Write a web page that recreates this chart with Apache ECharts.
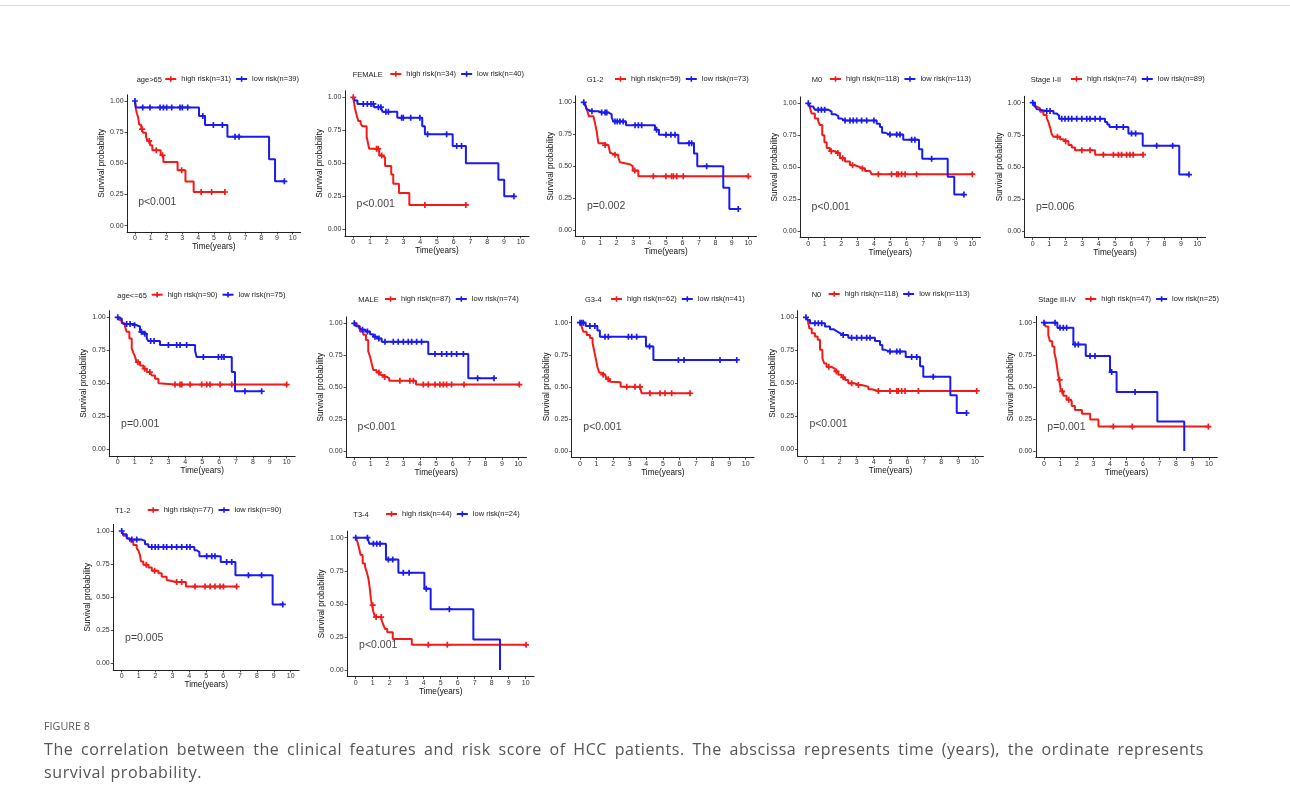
<!DOCTYPE html>
<html><head><meta charset="utf-8">
<script src="https://cdn.jsdelivr.net/npm/echarts@6/dist/echarts.min.js"></script>
<style>
html,body{margin:0;padding:0;background:#fff}
#wrap{position:relative;width:1290px;height:809px}
#c{position:absolute;left:0;top:0;width:1290px;height:809px}
.cap{position:absolute;left:44px;font-family:"Open Sans","Noto Sans",sans-serif;color:#555;white-space:nowrap}
#fig{top:719px;font-size:10.8px;line-height:14px;color:#5a5a5a}
#l1{top:737.5px;width:1160px;font-size:16px;line-height:23px;letter-spacing:0.6px;text-align:justify;text-align-last:justify;white-space:normal}
#l2{top:760.5px;font-size:16px;line-height:23px;letter-spacing:0.6px}
</style>
</head><body><div id="wrap"><div id="c"></div>
<div class="cap" id="fig">FIGURE 8</div>
<div class="cap" id="l1">The correlation between the clinical features and risk score of HCC patients. The abscissa represents time (years), the ordinate represents</div>
<div class="cap" id="l2">survival probability.</div>
</div>
<script>
// ---------------- DATA ----------------
const groups = ["age>65","FEMALE","G1-2","M0","Stage I-II","age<=65","MALE","G3-4","N0","Stage III-IV","T1-2","T3-4"];
const highN = [31,34,59,118,74,90,87,62,118,47,77,44];
const lowN  = [39,40,73,113,89,75,74,41,113,25,90,24];
const pValues = ["p<0.001","p<0.001","p=0.002","p<0.001","p=0.006","p=0.001","p<0.001","p<0.001","p<0.001","p=0.001","p=0.005","p<0.001"];
const xTicks = [0,1,2,3,4,5,6,7,8,9,10];
const yTicks = [0,0.25,0.5,0.75,1];

// [time, survival after event]
const high1 = [[0,1],[0.06,0.935],[0.12,0.90],[0.2,0.87],[0.27,0.81],[0.4,0.775],[0.52,0.745],[0.7,0.71],[0.8,0.68],[0.95,0.645],[1.1,0.605],[1.63,0.565],[1.8,0.51],[2.7,0.445],[3.2,0.355],[3.72,0.27]];
const high1Cens = [0.45,0.9,1.35,1.75,2.96,4.19,4.86,5.7];
const low1 = [[0,1],[0.05,0.949],[4.06,0.88],[4.44,0.807],[5.86,0.714],[8.5,0.532],[8.88,0.356]];
const low1Cens = [0,0.49,0.95,1.59,1.8,2.01,2.33,2.85,3.0,3.34,4.3,4.97,5.54,6.34,6.6,9.47];

const high2 = [[0,1],[0.1,0.917],[0.2,0.866],[0.3,0.82],[0.44,0.80],[0.55,0.78],[0.8,0.70],[0.87,0.66],[0.95,0.61],[1.55,0.56],[1.75,0.545],[1.9,0.48],[2.27,0.415],[2.39,0.345],[2.73,0.275],[3.35,0.185]];
const high2Cens = [0,1.39,1.49,1.7,4.28,6.73];
const low2 = [[0,1],[0.1,0.975],[0.25,0.95],[1.25,0.925],[1.75,0.89],[2.63,0.845],[4.12,0.78],[4.28,0.72],[5.94,0.631],[6.73,0.50],[8.67,0.375],[9.02,0.25]];
const low2Cens = [0.6,0.84,1.06,1.2,1.5,1.65,1.95,2.1,2.89,2.99,3.43,3.98,4.44,5.58,6.18,6.47,9.6];

const high3 = [[0,1],[0.1,0.98],[0.2,0.94],[0.32,0.89],[0.59,0.875],[0.69,0.835],[0.79,0.77],[0.89,0.68],[1.19,0.665],[1.5,0.65],[1.6,0.605],[1.7,0.59],[2.1,0.57],[2.2,0.53],[2.3,0.515],[2.8,0.50],[2.98,0.465],[3.32,0.42]];
const high3Cens = [1.3,1.9,3.1,4.23,5.0,5.34,5.45,5.65,6.05,10.0];
const low3 = [[0,1],[0.08,0.98],[0.18,0.945],[0.3,0.93],[0.89,0.92],[1.5,0.905],[1.7,0.88],[1.8,0.85],[2.57,0.82],[4.33,0.785],[4.57,0.745],[5.75,0.68],[6.7,0.60],[6.9,0.50],[8.48,0.33],[8.85,0.165]];
const low3Cens = [0,0.5,1.09,1.3,1.4,1.9,2.04,2.2,2.4,3.12,3.32,3.52,4.43,5.0,5.3,5.55,6.4,6.56,7.47,9.39];

const high4 = [[0,1],[0.1,0.965],[0.2,0.92],[0.4,0.88],[0.6,0.86],[0.7,0.83],[0.85,0.75],[0.98,0.695],[1.12,0.65],[1.32,0.625],[1.63,0.61],[1.93,0.57],[2.24,0.545],[2.54,0.515],[2.85,0.50],[3.15,0.49],[3.46,0.47],[3.76,0.46],[3.86,0.445]];
const high4Cens = [1.4,1.8,2.1,2.7,3.3,4.27,5.08,5.39,5.49,5.69,5.9,6.6,10.0];
const low4 = [[0,1],[0.1,0.975],[0.3,0.96],[0.4,0.95],[1.22,0.935],[1.42,0.915],[1.63,0.90],[1.83,0.88],[2.03,0.865],[4.17,0.84],[4.37,0.815],[4.5,0.77],[4.67,0.755],[5.79,0.715],[6.75,0.64],[6.95,0.565],[8.5,0.425],[8.9,0.285]];
const low4Cens = [0,0.6,0.8,1.0,2.24,2.54,2.74,2.95,3.25,3.56,4.0,4.98,5.39,5.59,6.3,6.5,7.52,9.49];

const high5 = [[0,1],[0.1,0.97],[0.24,0.955],[0.45,0.93],[0.65,0.905],[0.85,0.88],[0.95,0.85],[1.05,0.81],[1.15,0.755],[1.26,0.735],[1.66,0.715],[1.86,0.70],[2.17,0.67],[2.37,0.65],[2.57,0.63],[3.79,0.595]];
const high5Cens = [1.5,2.0,2.98,3.48,4.29,4.9,5.2,5.4,5.7,5.9,6.1,6.7];
const low5 = [[0,1],[0.14,0.975],[0.24,0.95],[0.3,0.935],[1.26,0.915],[1.46,0.90],[1.6,0.875],[4.39,0.85],[4.53,0.83],[4.66,0.81],[5.81,0.76],[6.68,0.665],[8.9,0.44]];
const low5Cens = [0,0.85,1.05,1.76,1.96,2.17,2.37,2.67,2.98,3.28,3.48,3.79,4.09,5.1,5.5,6.0,6.25,7.53,8.5,9.49];

const high6 = [[0,1],[0.1,0.98],[0.24,0.955],[0.43,0.93],[0.53,0.89],[0.69,0.84],[0.83,0.765],[0.93,0.73],[1.03,0.70],[1.12,0.66],[1.32,0.635],[1.52,0.61],[1.72,0.585],[2.01,0.56],[2.21,0.535],[2.41,0.50],[2.5,0.49]];
const high6Cens = [1.2,1.6,1.9,3.39,3.69,3.79,4.28,4.97,5.27,5.46,6.06,6.75,10.0];
const low6 = [[0,1],[0.1,0.99],[0.24,0.967],[0.35,0.95],[0.93,0.94],[1.12,0.93],[1.32,0.89],[1.52,0.875],[1.72,0.84],[1.81,0.82],[2.5,0.79],[4.58,0.745],[4.67,0.70],[6.75,0.585],[6.94,0.44]];
const low6Cens = [0,0.53,0.73,1.0,1.4,1.6,1.95,2.15,3.0,3.49,3.69,4.08,5.07,5.96,6.15,6.29,7.53,8.52];

const high7 = [[0,1],[0.14,0.975],[0.35,0.935],[0.55,0.91],[0.71,0.87],[0.85,0.78],[0.96,0.74],[1.06,0.685],[1.16,0.635],[1.36,0.615],[1.6,0.595],[1.73,0.58],[1.97,0.57],[2.13,0.55],[3.76,0.52]];
const high7Cens = [1.5,1.85,2.78,3.39,3.6,4.21,4.51,4.92,5.22,5.43,5.63,5.93,6.69,10.06];
const low7 = [[0,1],[0.08,0.98],[0.3,0.96],[0.35,0.95],[0.65,0.935],[0.96,0.915],[1.16,0.895],[1.36,0.88],[1.67,0.855],[4.51,0.76],[6.95,0.57]];
const low7Cens = [0,0.5,0.8,1.26,1.5,1.87,2.38,2.68,2.99,3.29,3.5,3.8,4.1,4.92,5.33,5.63,5.93,6.24,6.65,7.52,8.52];

const high8 = [[0,1],[0.1,0.97],[0.2,0.93],[0.4,0.905],[0.6,0.88],[0.76,0.84],[0.85,0.785],[0.97,0.71],[1.05,0.655],[1.17,0.61],[1.31,0.595],[1.51,0.58],[1.61,0.56],[1.81,0.54],[1.91,0.535],[2.45,0.50],[3.72,0.45]];
const high8Cens = [1.4,1.7,2.82,3.32,3.62,4.22,4.83,5.13,5.53,6.64];
const low8 = [[0,1],[0.34,0.975],[1.05,0.94],[1.2,0.89],[3.98,0.815],[4.43,0.71]];
const low8Cens = [0,0.1,0.2,0.6,0.9,1.51,1.71,2.92,3.12,3.42,4.2,5.94,6.28,8.45,9.46];

const high9 = [[0,1],[0.1,0.98],[0.2,0.915],[0.34,0.88],[0.53,0.855],[0.69,0.83],[0.83,0.755],[0.97,0.69],[1.08,0.65],[1.22,0.625],[1.52,0.61],[1.72,0.59],[1.91,0.565],[2.11,0.545],[2.31,0.525],[2.5,0.50],[2.9,0.487],[3.29,0.475],[3.69,0.455],[3.89,0.442]];
const high9Cens = [1.35,1.8,2.2,2.7,3.1,4.28,4.97,5.37,5.46,5.66,5.86,6.65,10.1];
const low9 = [[0,1],[0.1,0.98],[0.24,0.955],[1.12,0.93],[1.42,0.91],[1.62,0.895],[1.81,0.88],[2.01,0.865],[2.5,0.845],[4.08,0.82],[4.38,0.79],[4.52,0.755],[4.64,0.74],[5.9,0.70],[6.75,0.63],[6.94,0.55],[8.54,0.41],[8.92,0.275]];
const low9Cens = [0,0.53,0.73,0.93,2.2,2.7,3.0,3.29,3.59,3.79,4.97,5.37,5.56,6.25,6.55,7.53,9.5];

const high10 = [[0,1],[0.1,0.97],[0.26,0.905],[0.36,0.855],[0.5,0.815],[0.63,0.765],[0.73,0.71],[0.83,0.62],[0.91,0.555],[0.97,0.515],[1.03,0.465],[1.17,0.43],[1.37,0.40],[1.58,0.39],[1.68,0.35],[1.88,0.32],[2.3,0.29],[2.8,0.245],[3.3,0.19]];
const high10Cens = [0.95,1.1,1.5,4.2,5.35,9.96];
const low10 = [[0,1],[0.81,0.96],[1.78,0.83],[2.53,0.74],[4.0,0.615],[4.4,0.46],[6.87,0.23],[8.5,0]];
const low10Cens = [0,0.67,0.97,1.17,1.37,1.88,2.08,2.79,3.09,4.1,5.52];

const high11 = [[0,1],[0.1,0.965],[0.3,0.945],[0.49,0.92],[0.69,0.895],[0.89,0.87],[0.99,0.85],[1.08,0.82],[1.14,0.77],[1.28,0.745],[1.58,0.725],[1.78,0.70],[2.17,0.68],[2.37,0.655],[2.66,0.63],[2.76,0.615],[3.8,0.58]];
const high11Cens = [1.45,1.95,3.25,3.55,4.34,4.93,5.23,5.52,5.82,6.02,6.8];
const low11 = [[0,1],[0.1,0.975],[0.3,0.945],[0.4,0.935],[1.18,0.925],[1.38,0.90],[1.58,0.88],[4.3,0.855],[4.44,0.84],[4.6,0.81],[5.86,0.765],[6.73,0.665],[8.93,0.445]];
const low11Cens = [0,0.6,0.89,1.78,1.98,2.17,2.47,2.66,2.96,3.25,3.55,3.85,4.04,5.03,5.33,5.52,6.21,6.51,7.5,8.28,9.53];

const high12 = [[0,1],[0.1,0.97],[0.2,0.92],[0.29,0.87],[0.41,0.805],[0.55,0.78],[0.65,0.74],[0.75,0.69],[0.84,0.605],[0.9,0.53],[0.96,0.49],[1.04,0.44],[1.14,0.40],[1.53,0.375],[1.63,0.34],[1.73,0.31],[1.86,0.285],[2.18,0.235],[3.3,0.19]];
const high12Cens = [1.0,1.2,1.5,4.27,5.39,10.02];
const low12 = [[0,1],[0.8,0.955],[1.78,0.835],[2.51,0.735],[4.04,0.615],[4.41,0.46],[6.92,0.23],[8.49,0]];
const low12Cens = [0,0.69,1.04,1.24,1.43,1.92,2.18,2.8,3.14,4.15,5.51];

const highSteps = [high1,high2,high3,high4,high5,high6,high7,high8,high9,high10,high11,high12];
const highCens  = [high1Cens,high2Cens,high3Cens,high4Cens,high5Cens,high6Cens,high7Cens,high8Cens,high9Cens,high10Cens,high11Cens,high12Cens];
const lowSteps  = [low1,low2,low3,low4,low5,low6,low7,low8,low9,low10,low11,low12];
const lowCens   = [low1Cens,low2Cens,low3Cens,low4Cens,low5Cens,low6Cens,low7Cens,low8Cens,low9Cens,low10Cens,low11Cens,low12Cens];

// ---------------- LAYOUT (pixels) ----------------
// gridLeft, gridTop, gridWidth, gridHeight, legendTitleX, legendItemsX, legendY
const layout = [
 [127.1, 94.8, 173.5, 137.1, 136.7, 164.3, 80],
 [344.9, 90.7, 184.1, 145.2, 352.7, 389.3, 75],
 [575.5, 95.9, 181.0, 140.5, 586.7, 614, 80],
 [800.1, 96.9, 180.4, 140.5, 811.7, 829, 80],
 [1024.5, 96.3, 181.1, 141.1, 1030.7, 1070, 80],
 [109.25, 310.7, 185.9, 145.2, 117.3, 150.7, 295.7],
 [346.1, 316.9, 180.4, 140.5, 358.3, 384, 300],
 [571.7, 316.3, 182.3, 141.1, 585, 610, 300],
 [797.55, 310.7, 185.9, 145.2, 811.7, 827.7, 295],
 [1035.75, 316.3, 181.5, 141.1, 1038.3, 1084.3, 300],
 [113.25, 524.4, 185.9, 145.5, 115, 146.7, 511],
 [347.2, 531.1, 187, 145.5, 353.3, 385, 515]
];

const FONT = '"Liberation Sans", Arial, sans-serif';
const RED = '#f41a1a', BLUE = '#1a1af2';
const plus = 'path://M-0.28,-1H0.28V-0.28H1V0.28H0.28V1H-0.28V0.28H-1V-0.28H-0.28Z';

function survAt(steps, t) {
  let s = 1;
  for (const p of steps) { if (p[0] <= t) s = p[1]; else break; }
  return s;
}
function buildData(steps, cens) {
  const pts = steps.map(p => ({ value: [p[0], p[1]], k: 0 }));
  cens.forEach(t => pts.push({ value: [t, survAt(steps, t)], k: 1 }));
  pts.sort((a, b) => a.value[0] - b.value[0] || a.k - b.k);
  return pts.map(p => p.k ? { value: p.value } : { value: p.value, symbol: 'none' });
}

const grid = [], xAxis = [], yAxis = [], series = [], legend = [], graphic = [];
layout.forEach((L, i) => {
  grid.push({ left: L[0], top: L[1], width: L[2], height: L[3], containLabel: false, outerBoundsMode: 'none' });
  const axLine = { show: true, onZero: false, lineStyle: { color: '#222', width: 1 } };
  xAxis.push({
    gridIndex: i, type: 'value', min: -0.5, max: 10.5,
    axisLine: axLine,
    axisTick: { show: true, length: 2.5, customValues: xTicks, lineStyle: { color: '#222', width: 0.8 } },
    axisLabel: { customValues: xTicks, fontSize: 7, color: '#333', margin: 3, fontFamily: FONT },
    splitLine: { show: false },
    name: 'Time(years)', nameLocation: 'middle', nameGap: 10,
    nameTextStyle: { fontSize: 8.2, color: '#111', fontFamily: FONT }
  });
  yAxis.push({
    gridIndex: i, type: 'value', min: -0.05, max: 1.05,
    axisLine: axLine,
    axisTick: { show: true, length: 2.5, customValues: yTicks, lineStyle: { color: '#222', width: 0.8 } },
    axisLabel: { customValues: yTicks, fontSize: 7, color: '#333', margin: 3.5, fontFamily: FONT,
                 formatter: v => v.toFixed(2) },
    splitLine: { show: false },
    name: 'Survival probability', nameLocation: 'middle', nameGap: 18,
    nameTextStyle: { fontSize: 8.2, color: '#111', fontFamily: FONT }
  });
  const hName = 'high risk(n=' + highN[i] + ')';
  const lName = 'low risk(n=' + lowN[i] + ')';
  [[hName, highSteps[i], highCens[i], RED], [lName, lowSteps[i], lowCens[i], BLUE]].forEach(s => {
    series.push({
      type: 'line', name: s[0], xAxisIndex: i, yAxisIndex: i, step: 'end',
      data: buildData(s[1], s[2]),
      symbol: plus, symbolSize: 6, showAllSymbol: true, showSymbol: true,
      lineStyle: { color: s[3], width: 2 }, itemStyle: { color: s[3] },
      emphasis: { disabled: true }, silent: true, animation: false, clip: false
    });
  });
  series.push({
    type: 'scatter', xAxisIndex: i, yAxisIndex: i, data: [[0.2, 0.19]], symbolSize: 0, silent: true,
    label: { show: true, position: 'right', distance: 0, formatter: pValues[i],
             fontSize: 10.5, color: '#111', fontFamily: FONT }
  });
  legend.push({
    left: L[5], top: L[6] - 5, padding: 0, orient: 'horizontal',
    data: [hName, lName], itemWidth: 11, itemHeight: 7, itemGap: 4, selectedMode: false,
    textStyle: { fontSize: 7.5, color: '#222', fontFamily: FONT }
  });
  graphic.push({
    type: 'text', x: L[4], y: L[6], silent: true,
    style: { text: groups[i], fontSize: 7.5, fill: '#222', fontFamily: FONT, verticalAlign: 'middle' }
  });
});

graphic.push({ type: 'line', shape: { x1: 0, y1: 5.5, x2: 1290, y2: 5.5 }, style: { stroke: '#d9d9d9', lineWidth: 1 }, silent: true });

const chart = echarts.init(document.getElementById('c'), null, { renderer: 'canvas' });
chart.setOption({ backgroundColor: '#fff', animation: false, grid, xAxis, yAxis, series, legend, graphic });
</script></body></html>
